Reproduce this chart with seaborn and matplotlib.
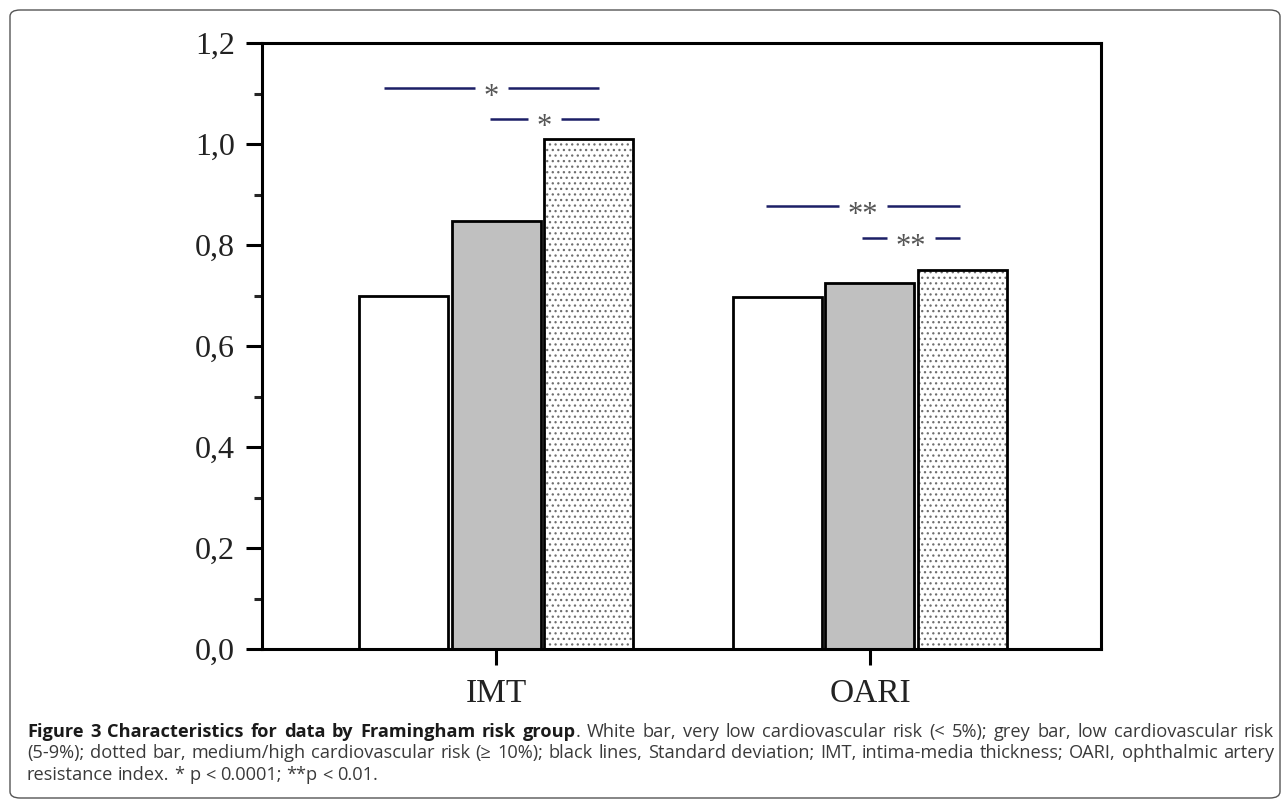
import numpy as np
import pandas as pd
import seaborn as sns
import matplotlib.pyplot as plt
from matplotlib.ticker import MultipleLocator
from matplotlib.patches import FancyBboxPatch, Rectangle

# values
measures = ["IMT", "OARI"]
risk_groups = ["very low (< 5%)", "low (5-9%)", "medium/high (≥ 10%)"]
imt_values = [0.700, 0.848, 1.010]
oari_values = [0.697, 0.724, 0.750]

y_ticks = [0.0, 0.2, 0.4, 0.6, 0.8, 1.0, 1.2]
y_tick_labels = ["0,0", "0,2", "0,4", "0,6", "0,8", "1,0", "1,2"]

# significance lines: start/end in category units, height in data units
sig_x0 = [-0.30, -0.016, 0.722, 0.979]
sig_x1 = [0.275, 0.275, 1.24, 1.24]
sig_y = [1.111, 1.050, 0.877, 0.814]
sig_marks = ["*", "*", "**", "**"]

caption_bold = "Figure 3 Characteristics for data by Framingham risk group"
caption_lines = [
    ". White bar, very low cardiovascular risk (< 5%); grey bar, low cardiovascular risk",
    "(5-9%); dotted bar, medium/high cardiovascular risk (≥ 10%); black lines, Standard deviation; IMT, intima-media thickness; OARI, ophthalmic artery",
    "resistance index. * p < 0.0001; **p < 0.01.",
]

df = pd.DataFrame({
    "measure": np.repeat(measures, len(risk_groups)),
    "risk": risk_groups * len(measures),
    "value": imt_values + oari_values,
})

sns.set_style("ticks")
plt.rcParams["font.family"] = ["Liberation Serif", "DejaVu Serif"]
plt.rcParams["hatch.linewidth"] = 0.9

W, H = 1282, 800
fig = plt.figure(figsize=(W / 100, H / 100), dpi=100)
ax = fig.add_axes([262 / W, 1 - 649 / H, (1101 - 262) / W, (649 - 43) / H])

sns.barplot(data=df, x="measure", y="value", hue="risk", order=measures,
            hue_order=risk_groups, palette=["white", "#c0c0c0", "white"],
            width=0.74, gap=0.035, edgecolor="black", linewidth=2.0,
            legend=False, ax=ax)

# dotted bars: grey dots inside, black outline on top
for bar in ax.containers[2]:
    bar.set_hatch("...")
    bar.set_edgecolor("#6e6e6e")
    bar.set_linewidth(0)
    ax.add_patch(Rectangle(bar.get_xy(), bar.get_width(), bar.get_height(),
                           fill=False, edgecolor="black", lw=2.0, zorder=bar.get_zorder() + 0.1))

ax.set_xlim(-0.626, 1.618)
ax.set_ylim(0, 1.2)
ax.set_yticks(y_ticks)
ax.set_yticklabels(y_tick_labels)
ax.yaxis.set_minor_locator(MultipleLocator(0.1))
ax.set_xlabel("")
ax.set_ylabel("")

for sp in ax.spines.values():
    sp.set_visible(True)
    sp.set_linewidth(2.2)
    sp.set_color("black")

ax.tick_params(axis="y", which="major", length=11.5, width=2.2, labelsize=23, pad=8)
ax.tick_params(axis="y", which="minor", length=6, width=2.2)
ax.tick_params(axis="x", length=11.5, width=2.2, labelsize=24, pad=10)
ax.tick_params(colors="black", labelcolor="#222222")

renderer = fig.canvas.get_renderer()

# significance lines broken around the star labels
for x0, x1, y, mark in zip(sig_x0, sig_x1, sig_y, sig_marks):
    xm = (x0 + x1) / 2
    t = ax.annotate(mark, xy=(xm, y), xytext=(0, -12), textcoords="offset points",
                    ha="center", va="baseline", fontsize=22, color="#555555", zorder=4)
    ext = t.get_window_extent(renderer)
    inv = ax.transData.inverted()
    tl = inv.transform((ext.x0 - 9, 0))[0]
    tr = inv.transform((ext.x1 + 9, 0))[0]
    ax.plot([x0, tl], [y, y], color="#1c1f66", lw=1.8, solid_capstyle="butt", zorder=3)
    ax.plot([tr, x1], [y, y], color="#1c1f66", lw=1.8, solid_capstyle="butt", zorder=3)

# rounded frame around the whole figure
fig.patches.append(FancyBboxPatch((10 / W, 2 / H), (W - 12) / W, (H - 12) / H,
                                  boxstyle="round,pad=0,rounding_size=0.008",
                                  transform=fig.transFigure, facecolor="none",
                                  edgecolor="#555555", lw=1.0))

# justified caption
cap_family = ["Open Sans", "DejaVu Sans"]
x_left, x_right = 27, 1274


def width_of(s, weight, size):
    t = fig.text(0, 0, s, fontweight=weight, family=cap_family, fontsize=size)
    w = t.get_window_extent(renderer).width
    t.remove()
    return w


# pick the size at which the full second line fits the text block
cap_size = 10 * (x_right - x_left) / width_of(caption_lines[1], "normal", 10) * 0.995


def draw_line(tokens, y_px, justify):
    # tokens: (text, weight, glued_to_previous)
    groups = []
    for text, weight, glued in tokens:
        if glued and groups:
            groups[-1].append((text, weight))
        else:
            groups.append([(text, weight)])
    gw = [sum(width_of(s, w, cap_size) for s, w in g) for g in groups]
    space = width_of("a b", "normal", cap_size) - width_of("ab", "normal", cap_size)
    if justify and len(groups) > 1:
        space = (x_right - x_left - sum(gw)) / (len(groups) - 1)
    x = x_left
    for g, w in zip(groups, gw):
        xx = x
        for s, weight in g:
            col = "#1a1a1a" if weight == "bold" else "#3a3a3a"
            fig.text(xx / W, 1 - y_px / H, s, fontweight=weight, color=col,
                     family=cap_family, fontsize=cap_size, ha="left", va="baseline")
            xx += width_of(s, weight, cap_size)
        x += w + space


line1 = [(w, "bold", False) for w in caption_bold.split(" ")]
rest = caption_lines[0].split(" ")
line1 += [(rest[0], "normal", True)] + [(w, "normal", False) for w in rest[1:]]
line2 = [(w, "normal", False) for w in caption_lines[1].split(" ")]
line3 = [(w, "normal", False) for w in caption_lines[2].split(" ")]

draw_line(line1, 737, True)
draw_line(line2, 758, True)
draw_line(line3, 780, False)

fig.savefig("out.png", dpi=100)
